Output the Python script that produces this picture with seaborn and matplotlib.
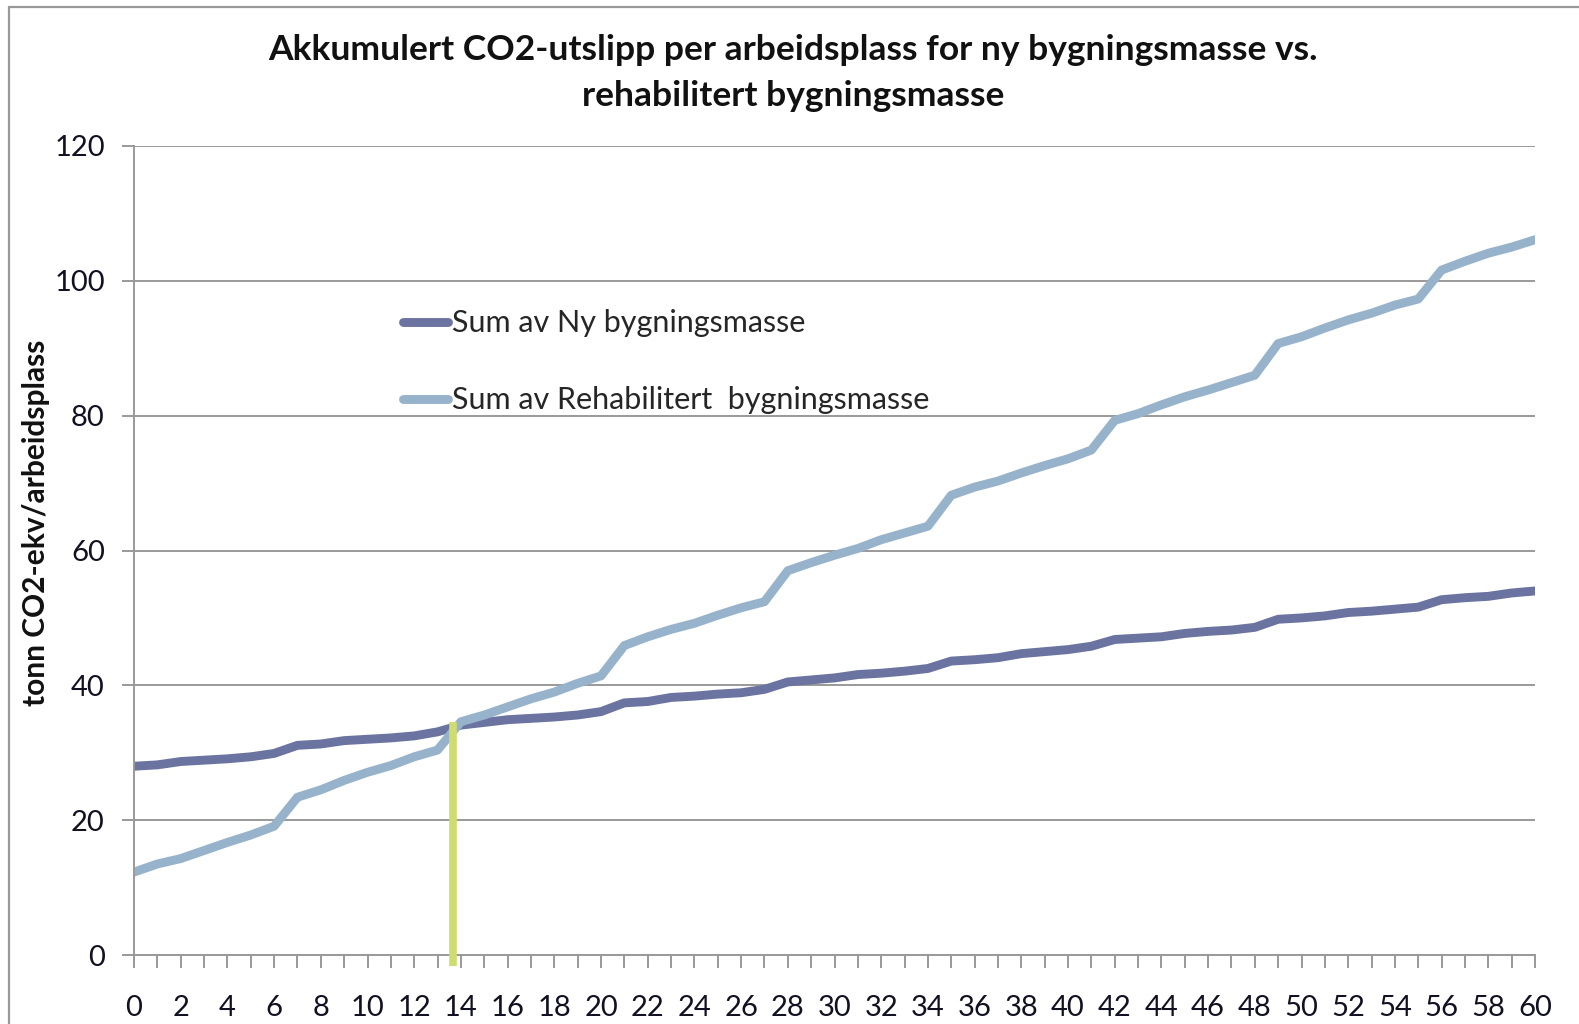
import numpy as np
import pandas as pd
import matplotlib
matplotlib.use("Agg")
import matplotlib.pyplot as plt
from matplotlib.lines import Line2D
import seaborn as sns

years = list(range(0, 61))
ny = [28.0, 28.2, 28.7, 28.9, 29.1, 29.4, 29.9, 31.1, 31.3, 31.8, 32.0, 32.2, 32.5, 33.1,
      34.1, 34.5, 34.9, 35.1, 35.3, 35.6, 36.1, 37.4, 37.6, 38.2, 38.4, 38.7, 38.9, 39.4,
      40.5, 40.8, 41.1, 41.6, 41.8, 42.1, 42.5, 43.6, 43.8, 44.1, 44.7, 45.0, 45.3, 45.8,
      46.8, 47.0, 47.2, 47.7, 48.0, 48.2, 48.6, 49.8, 50.0, 50.3, 50.8, 51.0, 51.3, 51.6,
      52.7, 53.0, 53.2, 53.7, 54.0]
rehab = [12.3, 13.5, 14.3, 15.5, 16.7, 17.8, 19.1, 23.4, 24.5, 25.9, 27.1, 28.1, 29.4, 30.4,
         34.6, 35.6, 36.8, 38.0, 39.0, 40.3, 41.4, 45.9, 47.2, 48.3, 49.2, 50.4, 51.5, 52.4,
         57.0, 58.2, 59.3, 60.3, 61.6, 62.6, 63.6, 68.2, 69.4, 70.3, 71.5, 72.6, 73.6, 74.9,
         79.3, 80.3, 81.6, 82.8, 83.8, 84.9, 86.0, 90.7, 91.7, 93.0, 94.2, 95.2, 96.4, 97.3,
         101.6, 102.9, 104.1, 105.0, 106.1]
series_names = ["Sum av Ny bygningsmasse", "Sum av Rehabilitert  bygningsmasse"]
crossover_x = [13.65, 13.65]
crossover_y = [-1.6, 34.5]

title = "Akkumulert CO2-utslipp per arbeidsplass for ny bygningsmasse vs.\nrehabilitert bygningsmasse"
ylabel = "tonn CO2-ekv/arbeidsplass"

sns.set_theme(style="white")
plt.rcParams["font.family"] = ["Lato", "DejaVu Sans"]

df = pd.DataFrame({
    "year": years * 2,
    "value": ny + rehab,
    "series": [series_names[0]] * len(years) + [series_names[1]] * len(years),
})

fig = plt.figure(figsize=(15.79, 10.24), dpi=100)
ax = fig.add_axes([134 / 1579, 1 - 955 / 1024, (1535 - 134) / 1579, (955 - 146) / 1024])

palette = {series_names[0]: "#6b74a0", series_names[1]: "#97b3cb"}
sns.lineplot(data=df, x="year", y="value", hue="series", palette=palette, ax=ax,
             linewidth=6.4, legend=True, solid_capstyle="round", solid_joinstyle="round")

ax.plot(crossover_x, crossover_y, color="#cfdc70", linewidth=5.5, solid_capstyle="butt",
        clip_on=False, zorder=5)

ax.set_xlim(0, 60)
ax.set_ylim(0, 120)
ax.set_xticks(range(0, 61, 2))
ax.set_xticks(range(0, 61, 1), minor=True)
ax.set_yticks(range(0, 121, 20))
ax.yaxis.grid(True, color="#999999", linewidth=1.4)
ax.xaxis.grid(False)
for s in ["top", "right"]:
    ax.spines[s].set_visible(False)
for s in ["left", "bottom"]:
    ax.spines[s].set_color("#999999")
    ax.spines[s].set_linewidth(1.4)
ax.tick_params(axis="x", which="both", direction="out", length=9, width=1.4, color="#999999",
               bottom=True, labelsize=21, pad=20, labelcolor="#111122")
ax.tick_params(axis="y", direction="out", length=9, width=1.4, color="#999999",
               left=True, labelsize=21, pad=12, labelcolor="#111122")
ax.set_xlabel("")
ax.set_ylabel("")
fig.text(36 / 1579, 1 - 523 / 1024, ylabel, rotation=90, ha="center", va="center",
         fontsize=21.5, fontweight="bold", color="#111111")

leg = ax.legend(loc="upper left", bbox_to_anchor=(0.192, 0.798), frameon=False, fontsize=22,
                handlelength=1.47, handletextpad=0.15, labelspacing=1.6,
                borderpad=0, borderaxespad=0)
for h in leg.get_lines():
    h.set_linewidth(6.4)

fig.text(793 / 1579, 1 - 73 / 1024, title, ha="center", va="center", fontsize=25.5,
         fontweight="bold", linespacing=1.5, color="#111111")

# figure frame
fig.add_artist(Line2D([9 / 1579, 1.0], [1 - 7 / 1024, 1 - 7 / 1024], color="#999999",
                      linewidth=1.6, transform=fig.transFigure))
fig.add_artist(Line2D([9 / 1579, 9 / 1579], [0, 1 - 7 / 1024], color="#999999",
                      linewidth=1.6, transform=fig.transFigure))

fig.savefig("out.png", dpi=100)
